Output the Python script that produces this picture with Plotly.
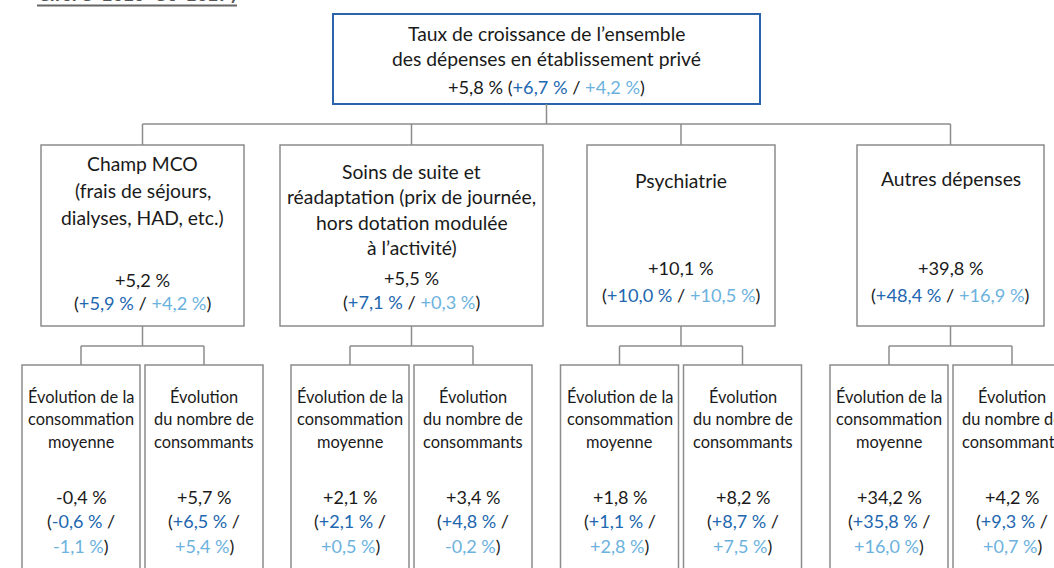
import plotly.graph_objects as go

# ---------------- data ----------------
page_title = "entre 2016 et 2017)"

top_title = ["Taux de croissance de l’ensemble", "des dépenses en établissement privé"]
top_total = 5.8
top_g1 = 6.7
top_g2 = 4.2

cat_titles = [
    ["Champ MCO", "(frais de séjours,", "dialyses, HAD, etc.)"],
    ["Soins de suite et", "réadaptation (prix de journée,", "hors dotation modulée", "à l’activité)"],
    ["Psychiatrie"],
    ["Autres dépenses"],
]
cat_total = [5.2, 5.5, 10.1, 39.8]
cat_g1 = [5.9, 7.1, 10.0, 48.4]
cat_g2 = [4.2, 0.3, 10.5, 16.9]

sub_titles = [
    ["Évolution de la", "consommation", "moyenne"],
    ["Évolution", "du nombre de", "consommants"],
]
sub_total = [[-0.4, 5.7], [2.1, 3.4], [1.8, 8.2], [34.2, 4.2]]
sub_g1 = [[-0.6, 6.5], [2.1, 4.8], [1.1, 8.7], [35.8, 9.3]]
sub_g2 = [[-1.1, 5.4], [0.5, -0.2], [2.8, 7.5], [16.0, 0.7]]

# ---------------- styles / layout ----------------
W, H = 1054, 568
FONT = "Lato"
C_TXT = "#1a1a1a"
C_DARK = "#2267b0"
C_LIGHT = "#6cb2de"
C_BORDER = "#8c8c8c"
C_TOPBORDER = "#2b63ad"
S_TITLE = 19.3
S_VAL = 18.2
S_SUBT = 16.4
S_SUBV = 18.0

TOP_BOX = (333, 14, 760, 104)
CAT_X = [(41, 244), (280, 543), (587, 775), (857, 1044)]
CAT_Y = (145, 326)
CAT_TITLE_Y = [(163, 27), (171, 25.5), (180, 0), (178, 0)]
CAT_VAL_Y = [(280, 303), (278, 302), (268, 295), (268, 295)]
BUS1 = 124
BUS2 = 346
SUB_W, SUB_GAP = 118, 5
SUB_Y = (365, 620)
SUB_TITLE_Y = (396, 22.5)
SUB_VAL_Y = (497, 521, 546)

def pct(v):
    s = "+" if v >= 0 else "-"
    return f"{s}{abs(v):.1f}".replace(".", ",") + "\u00a0%"

def col(t, c):
    return f"<span style='color:{c}'>{t}</span>"

shapes = []
annots = []

def line(x0, y0, x1, y1, color=C_BORDER, w=1.5):
    shapes.append(dict(type="line", xref="x", yref="y", x0=x0, y0=y0, x1=x1, y1=y1,
                       line=dict(color=color, width=w)))

def rect(x0, y0, x1, y1, color=C_BORDER, w=1.5):
    shapes.append(dict(type="rect", xref="x", yref="y", x0=x0, y0=y0, x1=x1, y1=y1,
                       line=dict(color=color, width=w), fillcolor="rgba(0,0,0,0)"))

def text(x, y, t, size=S_TITLE, color=C_TXT):
    annots.append(dict(x=x, y=y, xref="x", yref="y", text=t, showarrow=False,
                       xanchor="center", yanchor="middle",
                       font=dict(family=FONT, size=size, color=color)))

# page title remnant (cut off at top)
annots.append(dict(x=37, y=7.5, xref="x", yref="y", text=f"<b>{page_title}</b>", showarrow=False,
                   xanchor="left", yanchor="bottom",
                   font=dict(family="DejaVu Sans Mono", size=17.5, color="#555555")))
line(37, 5.5, 237, 5.5, color="#666666", w=2)

# top box
tx0, ty0, tx1, ty1 = TOP_BOX
tcx = (tx0 + tx1) / 2
rect(tx0, ty0, tx1, ty1, color=C_TOPBORDER, w=2)
for i, t in enumerate(top_title):
    text(tcx, 33 + 25 * i, t)
text(tcx, 87, f"{pct(top_total)} ({col(pct(top_g1), C_DARK)} / {col(pct(top_g2), C_LIGHT)})", size=S_VAL)

# connectors level 1
cat_cx = [(a + b) / 2 for a, b in CAT_X]
line(tcx, ty1, tcx, BUS1)
line(cat_cx[0], BUS1, cat_cx[-1], BUS1)
for cx in cat_cx:
    line(cx, BUS1, cx, CAT_Y[0])

for k, (x0, x1) in enumerate(CAT_X):
    cx = cat_cx[k]
    rect(x0, CAT_Y[0], x1, CAT_Y[1])
    y0, dy = CAT_TITLE_Y[k]
    for i, t in enumerate(cat_titles[k]):
        text(cx, y0 + dy * i, t)
    v1, v2 = CAT_VAL_Y[k]
    text(cx, v1, pct(cat_total[k]), size=S_VAL)
    text(cx, v2, f"({col(pct(cat_g1[k]), C_DARK)} / {col(pct(cat_g2[k]), C_LIGHT)})", size=S_VAL)

    # level 2 connectors
    centers = [cx - SUB_GAP / 2 - SUB_W / 2, cx + SUB_GAP / 2 + SUB_W / 2]
    line(cx, CAT_Y[1], cx, BUS2)
    line(centers[0], BUS2, centers[1], BUS2)
    for j, sc in enumerate(centers):
        line(sc, BUS2, sc, SUB_Y[0])
        rect(sc - SUB_W / 2, SUB_Y[0], sc + SUB_W / 2, SUB_Y[1])
        sy, sdy = SUB_TITLE_Y
        for i, t in enumerate(sub_titles[j]):
            text(sc, sy + sdy * i, t, size=S_SUBT)
        text(sc, SUB_VAL_Y[0], pct(sub_total[k][j]), size=S_SUBV)
        text(sc, SUB_VAL_Y[1], f"({col(pct(sub_g1[k][j]), C_DARK)} /", size=S_SUBV)
        text(sc, SUB_VAL_Y[2], f"{col(pct(sub_g2[k][j]), C_LIGHT)})", size=S_SUBV)

fig = go.Figure()
fig.add_trace(go.Scatter(x=[], y=[]))
fig.update_layout(
    width=W, height=H,
    margin=dict(l=0, r=0, t=0, b=0),
    paper_bgcolor="white", plot_bgcolor="white",
    xaxis=dict(range=[0, W], visible=False, fixedrange=True),
    yaxis=dict(range=[H, 0], visible=False, fixedrange=True),
    shapes=shapes, annotations=annots, showlegend=False,
)
fig.write_html("out.html", config={"displayModeBar": False},
               post_script="document.body.style.margin='0px';document.body.style.overflow='hidden';")
